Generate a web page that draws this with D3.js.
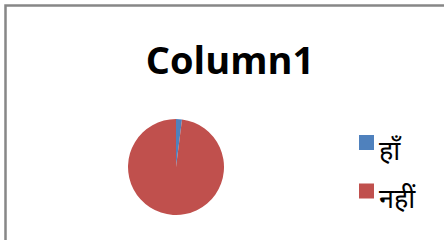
<!DOCTYPE html>
<html>
<head>
<meta charset="utf-8">
<script src="https://cdn.jsdelivr.net/npm/d3@7"></script>
<style>
  html, body { margin: 0; padding: 0; background: #fff; }
  svg { display: block; }
</style>
</head>
<body>
<svg id="chart" width="444" height="240"></svg>
<script>
// chart data
var title = "Column1";
var categories = ["हाँ", "नहीं"];
var values = [2, 98];
var colors = ["#4f81bd", "#c0504d"];

var width = 444;
var height = 240;

var svg = d3.select("#chart");

// outer frame (runs off the right and bottom edge)
svg.append("rect")
  .attr("x", 5.5)
  .attr("y", 5.5)
  .attr("width", width + 10)
  .attr("height", height + 10)
  .attr("fill", "#fff")
  .attr("stroke", "#878787")
  .attr("stroke-width", 2.5);

svg.append("text")
  .attr("x", 230)
  .attr("y", 74)
  .attr("text-anchor", "middle")
  .attr("font-family", "'Open Sans', sans-serif")
  .attr("font-weight", "bold")
  .attr("font-size", 38)
  .attr("fill", "#000")
  .text(title);

/** pie */
var data = categories.map((c, i) => ({ name: c, value: values[i] }));
var pie = d3.pie().sort(null).value(d => d.value);
var arc = d3.arc().innerRadius(0).outerRadius(48);
var color = d3.scaleOrdinal().domain(categories).range(colors);

svg.append("g")
  .attr("transform", "translate(176,167)")
  .selectAll("path")
  .data(pie(data))
  .enter().append("path")
  .attr("d", arc)
  .attr("fill", d => color(d.data.name));

/** legend */
var legendY = d3.scalePoint().domain(categories).range([142.5, 191]);

var legend = svg.append("g").selectAll("g")
  .data(categories)
  .enter().append("g")
  .attr("transform", d => `translate(359, ${legendY(d)})`);

legend.append("rect")
  .attr("x", 0)
  .attr("y", -7.5)
  .attr("width", 15)
  .attr("height", 15)
  .attr("fill", d => color(d));

legend.append("text")
  .attr("x", 20)
  .attr("y", 17)
  .attr("font-family", "'Noto Sans', 'Noto Sans Devanagari', sans-serif")
  .attr("font-size", 27)
  .attr("fill", "#000")
  .text(d => d);
</script>
</body>
</html>
